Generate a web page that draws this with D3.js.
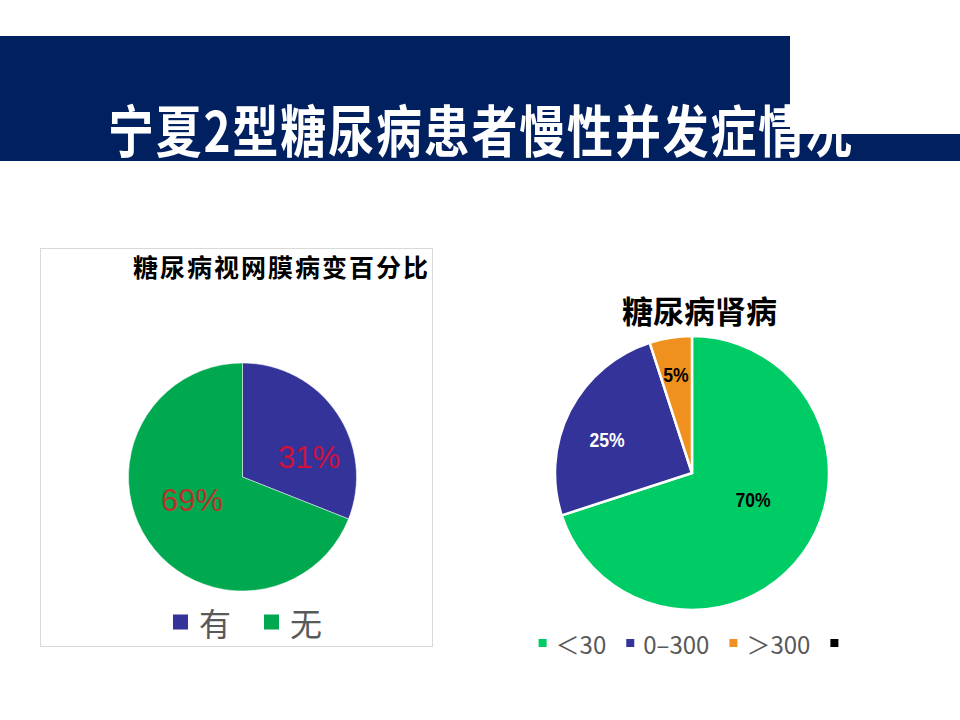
<!DOCTYPE html>
<html>
<head>
<meta charset="utf-8">
<script src="https://cdn.jsdelivr.net/npm/d3@7"></script>
<style>
  body { margin: 0; background: #fff; }
  svg { display: block; }
</style>
</head>
<body>
<div class="chart"></div>
<script>
// data
const pageTitle = "宁夏2型糖尿病患者慢性并发症情况";

const retinaTitle = "糖尿病视网膜病变百分比";
const retinaCats = ["有", "无"];
const retinaVals = [31, 69];
const retinaColors = ["#333399", "#00a84f"];

const kidneyTitle = "糖尿病肾病";
const kidneyCats = ["＜30", "0–300", "＞300"];
const kidneyVals = [70, 25, 5];
const kidneyColors = ["#00cc66", "#333399", "#f0901e"];
const kidneyLabelColors = ["#000", "#fff", "#000"];
const kidneyLegend = ["＜30", "0–300", "＞300", ""];
const kidneyLegendColors = ["#00cc66", "#333399", "#f0901e", "#000"];

const w = 960, h = 720;
const svg = d3.select(".chart").append("svg").attr("width", w).attr("height", h);
const cjk = "'Noto Sans CJK SC', 'Noto Sans', sans-serif";

// header band
svg.append("rect").attr("x", 0).attr("y", 36).attr("width", 790).attr("height", 98).attr("fill", "#002060");
svg.append("rect").attr("x", 0).attr("y", 134).attr("width", w).attr("height", 27).attr("fill", "#002060");
// condensed look: squeeze glyphs horizontally, spread to full width
const sx = 0.82;
svg.append("text")
  .attr("transform", `scale(${sx},1)`)
  .attr("x", 108 / sx).attr("y", 152)
  .attr("textLength", 744 / sx).attr("lengthAdjust", "spacing")
  .attr("font-family", cjk).attr("font-weight", "bold").attr("font-size", 56)
  .attr("fill", "#fff")
  .text(pageTitle);

// left chart frame
svg.append("rect").attr("x", 40.5).attr("y", 248.5).attr("width", 392).attr("height", 398)
  .attr("fill", "#fff").attr("stroke", "#d9d9d9");
svg.append("text")
  .attr("x", 133).attr("y", 277)
  .attr("textLength", 295).attr("lengthAdjust", "spacing")
  .attr("font-family", cjk).attr("font-weight", "bold").attr("font-size", 25)
  .text(retinaTitle);

const pie = d3.pie().sort(null).value(d => d);

// left pie
const lCx = 242.5, lCy = 477, lR = 114;
const lArc = d3.arc().innerRadius(0).outerRadius(lR);
const lLabelPos = [[309, 457], [192, 500]];
const lg = svg.append("g").attr("transform", `translate(${lCx},${lCy})`);
lg.selectAll("path")
  .data(pie(retinaVals))
  .enter()
  .append("path")
  .attr("d", lArc)
  .attr("fill", (d, i) => retinaColors[i])
  .attr("stroke", "#fff").attr("stroke-width", 0.5);
svg.selectAll(".lbl-l")
  .data(retinaVals)
  .enter()
  .append("text")
  .attr("class", "lbl-l")
  .attr("x", (d, i) => lLabelPos[i][0])
  .attr("y", (d, i) => lLabelPos[i][1])
  .attr("text-anchor", "middle").attr("dominant-baseline", "central")
  .attr("font-family", "'Liberation Sans', Arial, sans-serif").attr("font-size", 31)
  .attr("fill", (d, i) => i == 0 ? "#d0103a" : "#b8322a")
  .text(d => d + "%");

// legend helper
function legend(labels, colors, cx, y, size, fontSize, gap, itemGap) {
  const g = svg.append("g");
  let x = 0;
  labels.forEach((lab, i) => {
    g.append("rect").attr("x", x).attr("y", -size / 2).attr("width", size).attr("height", size)
      .attr("fill", colors[i]);
    x += size + gap;
    const t = g.append("text").attr("x", x).attr("y", 0)
      .attr("dominant-baseline", "central")
      .attr("font-family", cjk).attr("font-size", fontSize).attr("fill", "#595959")
      .text(lab);
    x += (lab ? t.node().getComputedTextLength() : 0) + itemGap;
  });
  x -= itemGap;
  g.attr("transform", `translate(${cx - x / 2},${y})`);
}
legend(retinaCats, retinaColors, 247.5, 622, 15, 32, 11, 33);

// right pie
svg.append("text")
  .attr("x", 699.5).attr("y", 323).attr("text-anchor", "middle")
  .attr("font-family", cjk).attr("font-weight", "bold").attr("font-size", 31)
  .text(kidneyTitle);

const rCx = 692, rCy = 473, rR = 137;
const rArc = d3.arc().innerRadius(0).outerRadius(rR);
const rLabelPos = [[753, 500], [607, 440], [676, 375]];
const rg = svg.append("g").attr("transform", `translate(${rCx},${rCy})`);
rg.selectAll("path")
  .data(pie(kidneyVals))
  .enter()
  .append("path")
  .attr("d", rArc)
  .attr("fill", (d, i) => kidneyColors[i])
  .attr("stroke", "#fff").attr("stroke-width", 2.5).attr("stroke-linejoin", "round");
svg.selectAll(".lbl-r")
  .data(kidneyVals)
  .enter()
  .append("text")
  .attr("class", "lbl-r")
  .attr("x", (d, i) => rLabelPos[i][0])
  .attr("y", (d, i) => rLabelPos[i][1])
  .attr("text-anchor", "middle").attr("dominant-baseline", "central")
  .attr("transform", (d, i) => `translate(${rLabelPos[i][0]},0) scale(0.88,1) translate(${-rLabelPos[i][0]},0)`)
  .attr("font-family", "'Liberation Sans', Arial, sans-serif")
  .attr("font-weight", "bold").attr("font-size", 20)
  .attr("fill", (d, i) => kidneyLabelColors[i])
  .text(d => d + "%");

legend(kidneyLegend, kidneyLegendColors, 693, 643, 8, 24, 9, 20);
</script>
</body>
</html>
